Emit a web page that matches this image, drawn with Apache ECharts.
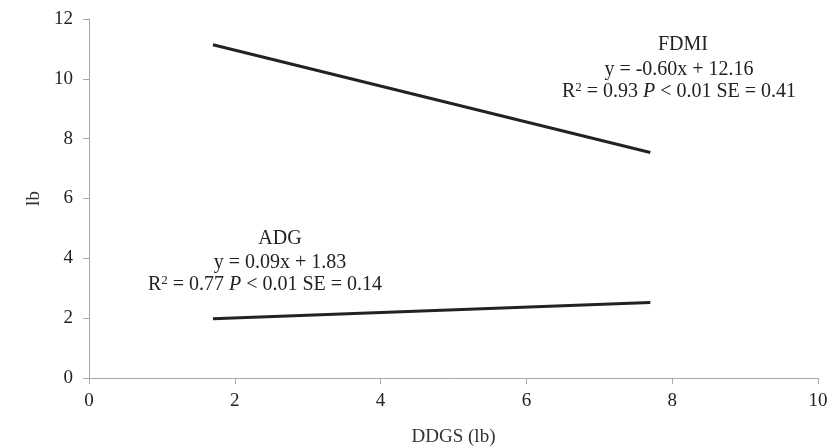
<!DOCTYPE html>
<html>
<head>
<meta charset="utf-8">
<script src="https://cdn.jsdelivr.net/npm/echarts@6/dist/echarts.min.js"></script>
<style>html,body{margin:0;padding:0;background:#fff}#c{width:828px;height:447px}</style>
</head>
<body>
<div id="c"></div>
<script>
var fdmiX = [1.7, 7.7];
var fdmiY = [11.14, 7.54];
var adgX = [1.7, 7.7];
var adgY = [1.98, 2.52];
var xTicks = [0, 2, 4, 6, 8, 10];
var yTicks = [0, 2, 4, 6, 8, 10, 12];

var FONT = '"Liberation Serif", "DejaVu Serif", serif';
var FS = 19;
var AS = 20;
var chart = echarts.init(document.getElementById('c'));
function pairs(xs, ys){ return xs.map(function(x,i){return [x, ys[i]];}); }
var axisCol = '#a8a8a8';
var rich = {
  n: {fontFamily: FONT, fontSize: AS, color: '#222'},
  s: {fontFamily: FONT, fontSize: 13, color: '#222', verticalAlign: 'top', padding: [0,0,9,0]},
  i: {fontFamily: FONT, fontSize: AS, color: '#222', fontStyle: 'italic'}
};
function t(cx, cy, s){
  return {type: 'text', x: cx, y: cy, style: {text: s, rich: rich, fontFamily: FONT, fontSize: AS, fill: '#222', align: 'center', verticalAlign: 'middle'}};
}
chart.setOption({
  animation: false,
  grid: {left: 89, right: 10, top: 19, bottom: 69, outerBoundsMode: 'none', containLabel: false},
  xAxis: {
    type: 'value', min: 0, max: 10, interval: 2,
    name: 'DDGS (lb)', nameLocation: 'middle', nameGap: 50,
    nameTextStyle: {fontFamily: FONT, fontSize: FS, color: '#333'},
    axisLine: {show: true, lineStyle: {color: axisCol, width: 1}},
    axisTick: {show: true, length: 6, lineStyle: {color: axisCol}},
    axisLabel: {fontFamily: FONT, fontSize: FS, color: '#222', margin: 14},
    splitLine: {show: false}
  },
  yAxis: {
    type: 'value', min: 0, max: 12, interval: 2,
    name: 'lb', nameLocation: 'middle', nameGap: 43, nameRotate: 90,
    nameTextStyle: {fontFamily: FONT, fontSize: FS, color: '#333'},
    axisLine: {show: true, lineStyle: {color: axisCol, width: 1}},
    axisTick: {show: true, length: 6, lineStyle: {color: axisCol}},
    axisLabel: {fontFamily: FONT, fontSize: FS, color: '#222', margin: 16},
    splitLine: {show: false}
  },
  series: [
    {type: 'line', data: pairs(fdmiX, fdmiY), symbol: 'none', lineStyle: {color: '#222', width: 3}},
    {type: 'line', data: pairs(adgX, adgY), symbol: 'none', lineStyle: {color: '#222', width: 3}}
  ],
  graphic: [
    t(683, 45, 'FDMI'),
    t(679, 70, 'y = -0.60x + 12.16'),
    t(679, 92, '{n|R}{s|2}{n| = 0.93 }{i|P}{n| < 0.01 SE = 0.41}'),
    t(280, 239, 'ADG'),
    t(280, 263, 'y = 0.09x + 1.83'),
    t(265, 285, '{n|R}{s|2}{n| = 0.77 }{i|P}{n| < 0.01 SE = 0.14}')
  ]
});
</script>
</body>
</html>
